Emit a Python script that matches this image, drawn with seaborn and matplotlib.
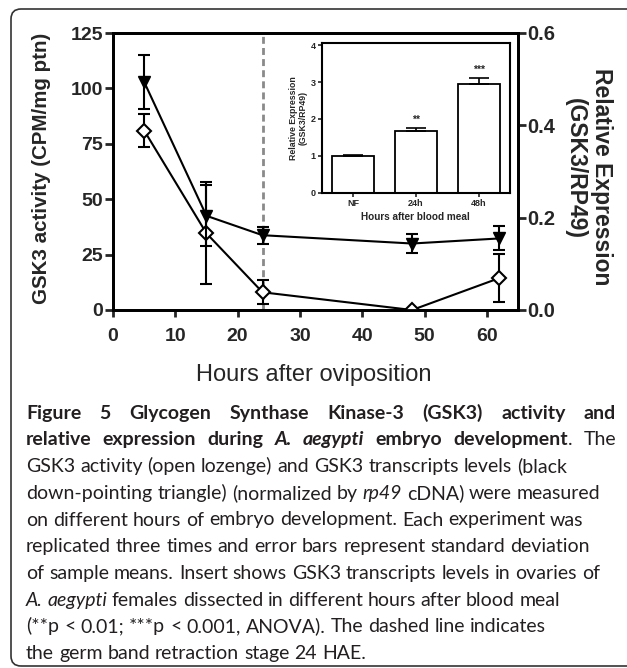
import matplotlib
matplotlib.use("Agg")
import matplotlib.pyplot as plt
import numpy as np
import pandas as pd
import seaborn as sns
from matplotlib.patches import FancyBboxPatch
from matplotlib.transforms import IdentityTransform

# ---------------- data ----------------
hours = [5, 15, 24, 48, 62]
activity = [81.0, 34.6, 8.0, 0.0, 14.4]          # GSK3 activity (CPM/mg ptn), open lozenge
activity_sd = [7.5, 23.0, 5.4, 0.0, 10.8]
expression = [0.494, 0.204, 0.162, 0.144, 0.155]  # relative expression (GSK3/RP49), black triangle
expression_sd = [0.058, 0.066, 0.018, 0.021, 0.026]

inset_cats = ["NF", "24h", "48h"]
inset_vals = [1.0, 1.68, 2.96]
inset_sd = [0.02, 0.07, 0.16]
inset_marks = ["", "**", "***"]

x_ticks = [0, 10, 20, 30, 40, 50, 60]
left_ticks = [0, 25, 50, 75, 100, 125]
right_ticks = [0.0, 0.2, 0.4, 0.6]
inset_ticks = [0, 1, 2, 3, 4]
germ_band_hour = 24

# ---------------- style ----------------
sns.set_style("ticks")
plt.rcParams["font.family"] = ["Liberation Sans", "DejaVu Sans"]

W, H = 627, 668
fig = plt.figure(figsize=(W / 100, H / 100), dpi=100)


def fx(px):
    return px / W


def fy(py):
    return 1 - py / H


# ---------------- main axes ----------------
ax = fig.add_axes([fx(113), fy(310), 405 / W, 277 / H])
ax.axvline(germ_band_hour, color="#8a8a8a", lw=2, ls=(0, (2.5, 1.5)), zorder=1)
ax.errorbar(hours, activity, yerr=activity_sd, fmt="none", ecolor="black",
            elinewidth=1.5, capsize=4.5, capthick=1.5, zorder=2)
sns.lineplot(x=hours, y=activity, ax=ax, color="black", lw=1.5, marker="D",
             markersize=7, markerfacecolor="white", markeredgecolor="black",
             markeredgewidth=1.5, zorder=3)
ax.set_xlim(0, 65)
ax.set_ylim(0, 125)
ax.set_xticks(x_ticks, labels=[str(t) for t in x_ticks])
ax.set_yticks(left_ticks, labels=[str(t) for t in left_ticks])
ax.set_xlabel("")
ax.set_ylabel("")

ax2 = ax.twinx()
ax2.errorbar(hours, expression, yerr=expression_sd, fmt="none", ecolor="black",
             elinewidth=1.5, capsize=4.5, capthick=1.5, zorder=2)
sns.lineplot(x=hours, y=expression, ax=ax2, color="black", lw=1.5, marker="v",
             markersize=9, markerfacecolor="black", markeredgecolor="black",
             markeredgewidth=1, zorder=3)
ax2.set_ylim(0, 0.6)
ax2.set_yticks(right_ticks, labels=[f"{t:.1f}" for t in right_ticks])
ax2.set_ylabel("")
ax2.set_xlabel("")

for a in (ax, ax2):
    for s in a.spines.values():
        s.set_linewidth(2)
        s.set_color("black")
ax.tick_params(axis="x", direction="out", length=5, width=2, labelsize=14, pad=8)
ax.tick_params(axis="y", direction="out", length=6, width=2, labelsize=14, pad=1)
ax2.tick_params(axis="y", direction="out", length=6, width=2, labelsize=14.5, pad=1)
for lbl in ax.get_xticklabels() + ax.get_yticklabels() + ax2.get_yticklabels():
    lbl.set_fontweight("bold")

fig.text(fx(42), fy(168), "GSK3 activity (CPM/mg ptn)", rotation=90,
         ha="center", va="center", fontsize=14.8, fontweight="bold")
fig.text(fx(602), fy(177), "Relative Expression", rotation=-90,
         ha="center", va="center", fontsize=16.5, fontweight="bold")
fig.text(fx(575), fy(168), "(GSK3/RP49)", rotation=-90,
         ha="center", va="center", fontsize=16.5, fontweight="bold")
fig.text(fx(314), fy(375), "Hours after oviposition", ha="center", va="center",
         fontsize=17)

# ---------------- inset ----------------
axin = fig.add_axes([fx(321.7), fy(192.7), 188.3 / W, 149.4 / H])
sns.barplot(x=inset_cats, y=inset_vals, ax=axin, color="white", saturation=1,
            edgecolor="black", linewidth=1.3, width=0.67, errorbar=None, zorder=2)
axin.errorbar(range(len(inset_cats)), inset_vals,
              yerr=[[0] * len(inset_sd), inset_sd], fmt="none", ecolor="black",
              elinewidth=1.2, capsize=7, capthick=1.2, zorder=3)
for i, m in enumerate(inset_marks):
    if m:
        axin.text(i, inset_vals[i] + inset_sd[i] + 0.22, m, ha="center",
                  va="center", fontsize=7.5, fontweight="bold")
axin.set_xlim(-0.5, 2.5)
axin.set_ylim(0, 4.05)
axin.set_yticks(inset_ticks, labels=[str(t) for t in inset_ticks])
for s in axin.spines.values():
    s.set_visible(True)
    s.set_linewidth(1.5)
    s.set_color("black")
axin.tick_params(direction="out", length=3, width=1.2, labelsize=6.5, pad=1.5)
for lbl in axin.get_xticklabels() + axin.get_yticklabels():
    lbl.set_fontweight("bold")
axin.set_xlabel("Hours after blood meal", fontsize=7.2, fontweight="bold", labelpad=3)
axin.set_ylabel("Relative Expression\n(GSK3/RP49)", fontsize=6.3,
                fontweight="bold", labelpad=2, linespacing=1.05)

# ---------------- outer frame ----------------
frame = FancyBboxPatch((11, 2), 640, 657, boxstyle="round,pad=0,rounding_size=10",
                       transform=IdentityTransform(), fill=False, ec="#333333", lw=1.2)
fig.add_artist(frame)

# ---------------- caption ----------------
caption_lines = [
    ([("Figure 5 Glycogen Synthase Kinase-3 (GSK3) activity and", "b")], True),
    ([("relative expression during ", "b"), ("A. aegypti", "bi"),
      (" embryo development", "b"), (". The", "n")], True),
    ([("GSK3 activity (open lozenge) and GSK3 transcripts levels (black", "n")], False),
    ([("down-pointing triangle) (normalized by ", "n"), ("rp49", "i"),
      (" cDNA) were measured", "n")], False),
    ([("on different hours of embryo development. Each experiment was", "n")], False),
    ([("replicated three times and error bars represent standard deviation", "n")], False),
    ([("of sample means. Insert shows GSK3 transcripts levels in ovaries of", "n")], False),
    ([("A. aegypti", "i"), (" females dissected in different hours after blood meal", "n")], False),
    ([("(**p < 0.01; ***p < 0.001, ANOVA). The dashed line indicates", "n")], False),
    ([("the germ band retraction stage 24 HAE.", "n")], False),
]
STYLES = {
    "n": dict(fontweight="normal", fontstyle="normal"),
    "b": dict(fontweight="bold", fontstyle="normal"),
    "i": dict(fontweight="normal", fontstyle="italic"),
    "bi": dict(fontweight="bold", fontstyle="italic"),
}
CAP_FAMILY = ["Lato", "DejaVu Sans"]
renderer = fig.canvas.get_renderer()


def text_width(s, size, st):
    t = fig.text(0, 0, s, fontsize=size, family=CAP_FAMILY, **STYLES[st])
    w = t.get_window_extent(renderer).width
    t.remove()
    return w


# fit caption size to reference width of third line
ref_w = text_width("GSK3 activity (open lozenge) and GSK3 transcripts levels (black", 10, "n")
cap_size = 10 * 540 / ref_w

x_left, x_right = 26, 616
base0, step = 418.7, 26.7


def split_words(segs):
    words, cur = [], []
    for text, st in segs:
        parts = text.split(" ")
        for k, p in enumerate(parts):
            if k > 0:
                words.append(cur)
                cur = []
            if p:
                cur.append((p, st))
    words.append(cur)
    return [w for w in words if w]


for li, (segs, justify) in enumerate(caption_lines):
    words = split_words(segs)
    widths = [[text_width(p, cap_size, st) for p, st in w] for w in words]
    st0 = words[0][0][1]
    space = text_width("a a", cap_size, st0) - text_width("aa", cap_size, st0)
    total = sum(sum(ws) for ws in widths)
    gap = space
    if justify and len(words) > 1:
        gap = (x_right - x_left - total) / (len(words) - 1)
    x = x_left
    yb = base0 + li * step
    for w, ws in zip(words, widths):
        for (p, st), wd in zip(w, ws):
            fig.text(fx(x), fy(yb), p, fontsize=cap_size, family=CAP_FAMILY,
                     ha="left", va="baseline", color="#231f20", **STYLES[st])
            x += wd
        x += gap

fig.savefig("out.png", dpi=100)
